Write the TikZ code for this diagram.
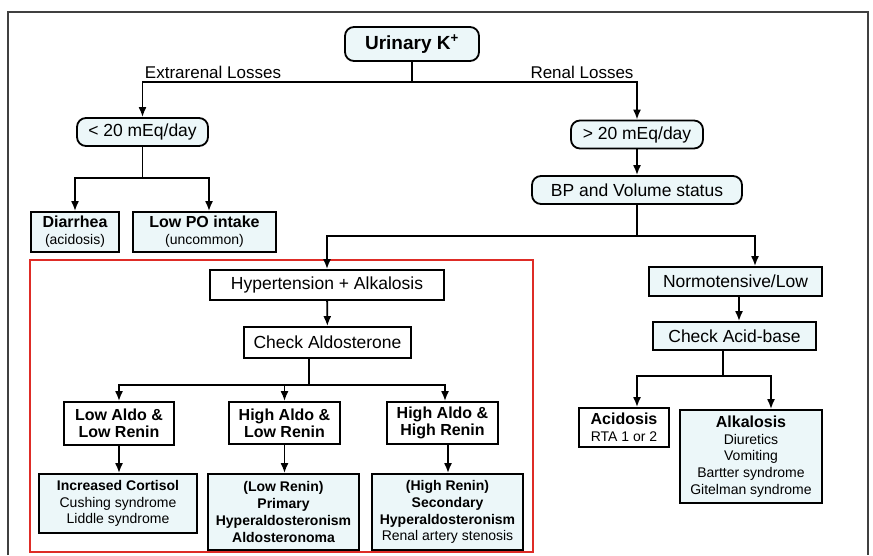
\documentclass[tikz,border=0pt]{standalone}
\usepackage{fontspec}
\setmainfont{Liberation Sans}
\usetikzlibrary{positioning,calc,arrows.meta}

\definecolor{boxfill}{RGB}{236,247,249}
\definecolor{framered}{RGB}{222,44,38}
\newcommand{\bigtxt}{\fontsize{17.5}{20}\selectfont}
\newcommand{\smalltxt}{\fontsize{14}{16.8}\selectfont}
\newcommand{\headtxt}{\fontsize{16}{16.8}\selectfont\bfseries}

\tikzset{
  >={Latex[length=10pt,width=8pt]},
  conn/.style={line width=1.8pt},
  pill/.style={draw, line width=1.8pt, rounded corners=9pt, fill=boxfill,
    inner sep=0pt, align=center, font=\bigtxt},
  plain/.style={draw, line width=1.8pt, fill=boxfill, inner sep=0pt,
    align=center, font=\bigtxt},
  result/.style={draw, line width=1.8pt, fill=boxfill, inner sep=0pt,
    align=center, font=\smalltxt},
}

\begin{document}
\begin{tikzpicture}[x=1pt,y=-1pt]
    \useasboundingbox (0,0) rectangle (873,555);
    % outer frame
    \draw[line width=1.4pt, black!75] (8,555) -- (8,12) -- (868,12) -- (868,555);
    \draw[line width=1.8pt, framered] (30,260) rectangle (533,552);

    % top
    \node[pill, minimum width=134pt, minimum height=34pt, font=\fontsize{19}{20}\selectfont\bfseries] (urine) at (412,44) {Urinary K\textsuperscript{+}};
    \node[pill, minimum width=131pt, minimum height=28pt] (lt20) at (142.5,132) {< 20 mEq/day};
    \node[pill, minimum width=132pt, minimum height=28pt] (gt20) at (637,134.5) {> 20 mEq/day};
    \node[pill, minimum width=210pt, minimum height=28pt] (bp) at (637,190) {BP and Volume status};
    \node[font=\fontsize{17}{20}\selectfont] (extra) at (213,72) {Extrarenal Losses};
    \node[font=\fontsize{17}{20}\selectfont] (renal) at (582,72) {Renal Losses};

    % extrarenal side
    \node[result, minimum width=88pt, minimum height=40pt] (diarrhea) at (75,232) {{\headtxt Diarrhea}\\(acidosis)};
    \node[result, minimum width=143pt, minimum height=40pt] (lowpo) at (204.5,232) {{\headtxt Low PO intake}\\(uncommon)};

    % hypertensive branch
    \node[plain, fill=white, minimum width=234pt, minimum height=30pt] (htn) at (327,285) {Hypertension + Alkalosis};
    \node[plain, fill=white, minimum width=167pt, minimum height=31pt] (aldo) at (327.5,342.5) {Check Aldosterone};
    \node[result, fill=white, minimum width=110pt, minimum height=43pt, font=\headtxt] (lowlow) at (119,423.5) {Low Aldo \&\\Low Renin};
    \node[result, fill=white, minimum width=111pt, minimum height=42pt, font=\headtxt] (highlow) at (284.5,423) {High Aldo \&\\Low Renin};
    \node[result, fill=white, minimum width=111pt, minimum height=42pt, font=\headtxt] (highhigh) at (442.5,423) {High Aldo \&\\High Renin};
    \node[result, minimum width=158pt, minimum height=59pt] (cortisol) at (118,503.5) {\textbf{Increased Cortisol}\\Cushing syndrome\\Liddle syndrome};
    \node[result, minimum width=151pt, minimum height=76pt, font=\smalltxt\bfseries] (primary) at (283.5,512) {(Low Renin)\\Primary\\Hyperaldosteronism\\Aldosteronoma};
    \node[result, minimum width=151pt, minimum height=76pt] (secondary) at (447.5,512) {\textbf{(High Renin)}\\\textbf{Secondary}\\\textbf{Hyperaldosteronism}\\Renal artery stenosis};

    % normotensive branch
    \node[plain, minimum width=173pt, minimum height=29pt] (normo) at (735.5,281.5) {Normotensive/Low};
    \node[plain, minimum width=163pt, minimum height=28pt] (acidbase) at (734.5,336) {Check Acid-base};
    \node[result, fill=white, minimum width=90pt, minimum height=39pt] (acidosis) at (624,427.5) {{\headtxt Acidosis}\\RTA 1 or 2};
    \node[result, minimum width=142pt, minimum height=93pt] (alkalosis) at (751,456.5) {{\headtxt Alkalosis}\\Diuretics\\Vomiting\\Bartter syndrome\\Gitelman syndrome};

    % connectors
    \draw[conn] (urine.south) -- (urine.south |- 0,82) coordinate (top);
    \draw[conn,->] (top) -| (lt20.north);
    \draw[conn,->] (top) -| (gt20.north);
    \draw[conn,->] (gt20) -- (bp);
    \draw[conn] (lt20.south) -- ++(0,31) coordinate (lsplit);
    \draw[conn,->] (lsplit) -| (diarrhea.north);
    \draw[conn,->] (lsplit) -| ([xshift=4.5pt]lowpo.north);
    \draw[conn] (bp.south) -- ++(0,31) coordinate (bsplit);
    \draw[conn,->] (bsplit) -| (htn.north);
    \draw[conn,->] (bsplit) -| ([xshift=19.5pt]normo.north);
    \draw[conn,->] (htn) -- (aldo);
    \draw[conn] ([xshift=-18.5pt]aldo.south) -- ++(0,26) coordinate (asplit);
    \draw[conn,->] (asplit) -| (lowlow.north);
    \draw[conn,->] (asplit) -| (highlow.north);
    \draw[conn,->] (asplit) -| ([xshift=2.5pt]highhigh.north);
    \draw[conn,->] (lowlow) -- (lowlow |- cortisol.north);
    \draw[conn,->] (highlow) -- (highlow |- primary.north);
    \draw[conn,->] ([xshift=5.5pt]highhigh.south) -- ([xshift=5.5pt]highhigh.south |- secondary.north);
    \draw[conn,->] ([xshift=3.5pt]normo.south) -- ([xshift=3.5pt]normo.south |- acidbase.north);
    \draw[conn] ([xshift=-11.5pt]acidbase.south) -- ++(0,25) coordinate (csplit);
    \draw[conn,->] (csplit) -| ([xshift=13pt]acidosis.north);
    \draw[conn,->] (csplit) -| ([xshift=20pt]alkalosis.north);
\end{tikzpicture}
\end{document}
